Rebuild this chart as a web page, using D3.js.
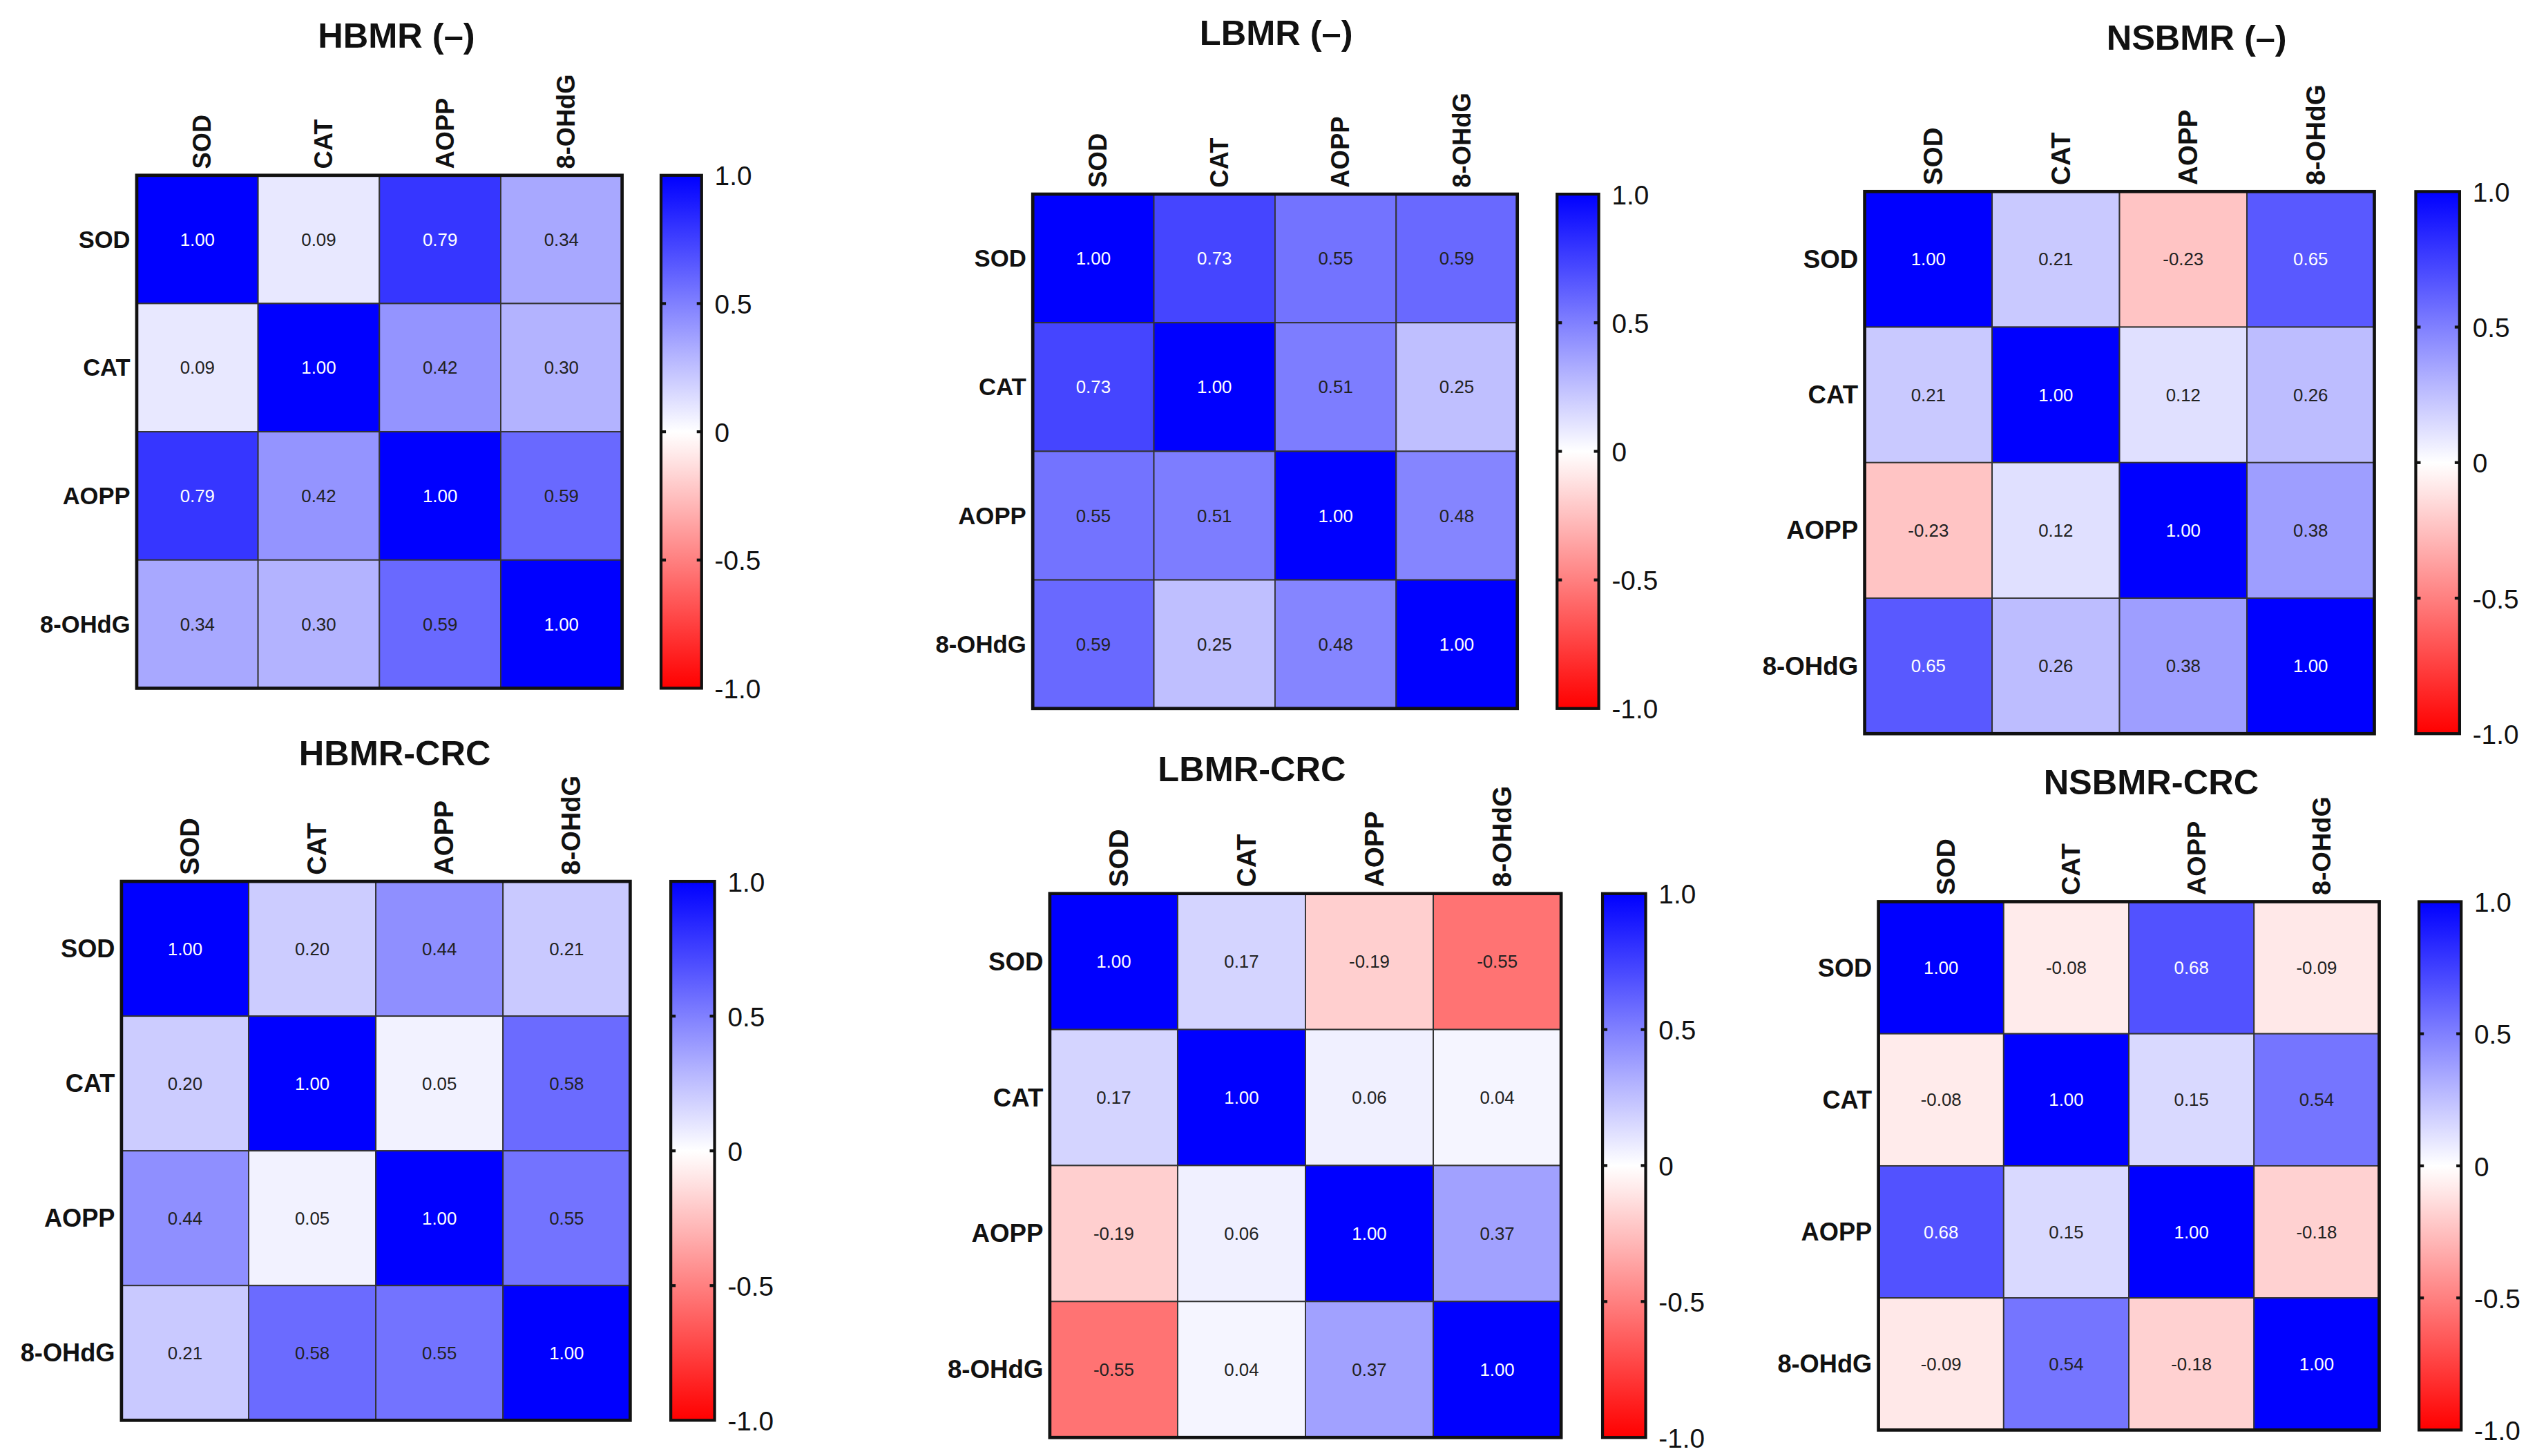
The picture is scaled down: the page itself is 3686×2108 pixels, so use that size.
<!DOCTYPE html>
<html>
<head>
<meta charset="utf-8">
<script src="https://cdn.jsdelivr.net/npm/d3@7"></script>
<style>
  html, body { margin: 0; padding: 0; background: #fff; }
  svg { display: block; }
  text { font-family: "Liberation Sans", Arial, sans-serif; }
</style>
</head>
<body>
<div id="chart"></div>
<script>
// variables shared by all six matrices
const vars = ["SOD", "CAT", "AOPP", "8-OHdG"];

// correlation matrices (rows/cols in the order of vars)
const hbmr = [
  [1.00, 0.09, 0.79, 0.34],
  [0.09, 1.00, 0.42, 0.30],
  [0.79, 0.42, 1.00, 0.59],
  [0.34, 0.30, 0.59, 1.00]
];
const lbmr = [
  [1.00, 0.73, 0.55, 0.59],
  [0.73, 1.00, 0.51, 0.25],
  [0.55, 0.51, 1.00, 0.48],
  [0.59, 0.25, 0.48, 1.00]
];
const nsbmr = [
  [1.00, 0.21, -0.23, 0.65],
  [0.21, 1.00, 0.12, 0.26],
  [-0.23, 0.12, 1.00, 0.38],
  [0.65, 0.26, 0.38, 1.00]
];
const hbmrCrc = [
  [1.00, 0.20, 0.44, 0.21],
  [0.20, 1.00, 0.05, 0.58],
  [0.44, 0.05, 1.00, 0.55],
  [0.21, 0.58, 0.55, 1.00]
];
const lbmrCrc = [
  [1.00, 0.17, -0.19, -0.55],
  [0.17, 1.00, 0.06, 0.04],
  [-0.19, 0.06, 1.00, 0.37],
  [-0.55, 0.04, 0.37, 1.00]
];
const nsbmrCrc = [
  [1.00, -0.08, 0.68, -0.09],
  [-0.08, 1.00, 0.15, 0.54],
  [0.68, 0.15, 1.00, -0.18],
  [-0.09, 0.54, -0.18, 1.00]
];

const titles = ["HBMR (\u2013)", "LBMR (\u2013)", "NSBMR (\u2013)", "HBMR-CRC", "LBMR-CRC", "NSBMR-CRC"];
const matrices = [hbmr, lbmr, nsbmr, hbmrCrc, lbmrCrc, nsbmrCrc];

// colour bar ticks
const cbTicks = [1, 0.5, 0, -0.5, -1];
const cbLabels = ["1.0", "0.5", "0", "-0.5", "-1.0"];

// panel placement (viewBox units), rf/cf = row/column label font size
const layout = [
  { tx: 244, ty: 22, x0: 84,    x1: 383,   y0: 108,   y1: 424,   c0: 407,  c1: 432,    rf: 14.7, cf: 15.4 },
  { tx: 786, ty: 20, x0: 636,   x1: 934.5, y0: 119.6, y1: 436.5, c0: 959,  c1: 984.7,  rf: 14.8, cf: 15.5 },
  { tx: 1353, ty: 23, x0: 1148.5, x1: 1462.5, y0: 118, y1: 452,   c0: 1488, c1: 1515,   rf: 15.6, cf: 16.4 },
  { tx: 243, ty: 464, x0: 74.6,  x1: 388,   y0: 543,   y1: 875,   c0: 413,  c1: 440,    rf: 15.4, cf: 16.2 },
  { tx: 771, ty: 474, x0: 646.5, x1: 961.5, y0: 550.5, y1: 885.6, c0: 987,  c1: 1013.6, rf: 15.6, cf: 16.5 },
  { tx: 1325, ty: 482, x0: 1157, x1: 1465.5, y0: 555.5, y1: 881,  c0: 1490, c1: 1516,   rf: 15.4, cf: 16.1 }
];

const W = 1568, H = 897;
const svg = d3.select("#chart").append("svg")
  .attr("width", 3686)
  .attr("height", 2108)
  .attr("viewBox", `0 0 ${W} ${H}`);

svg.append("rect").attr("width", W).attr("height", H).attr("fill", "#fff");

const color = d3.scaleLinear()
  .domain([-1, 0, 1])
  .range(["#ff0000", "#ffffff", "#0000ff"]);

// gradient for the colour bars
const defs = svg.append("defs");
const grad = defs.append("linearGradient")
  .attr("id", "cbgrad")
  .attr("x1", 0).attr("y1", 1).attr("x2", 0).attr("y2", 0);
grad.selectAll("stop")
  .data(d3.range(-1, 1.0001, 0.1))
  .enter()
  .append("stop")
  .attr("offset", d => ((d + 1) / 2 * 100) + "%")
  .attr("stop-color", d => color(d));

matrices.forEach((m, i) => {
  const L = layout[i];
  const g = svg.append("g").attr("class", "panel");

  const x = d3.scaleBand().domain(vars).range([L.x0, L.x1]);
  const y = d3.scaleBand().domain(vars).range([L.y0, L.y1]);

  g.append("text")
    .attr("x", L.tx)
    .attr("y", L.ty)
    .attr("text-anchor", "middle")
    .attr("dominant-baseline", "central")
    .attr("font-size", 21.5)
    .attr("font-weight", "bold")
    .attr("fill", "#111")
    .text(titles[i]);

  const cells = [];
  m.forEach((row, r) => row.forEach((v, c) => cells.push({ r: vars[r], c: vars[c], v })));

  g.selectAll("rect.cell")
    .data(cells)
    .enter()
    .append("rect")
    .attr("class", "cell")
    .attr("x", d => x(d.c))
    .attr("y", d => y(d.r))
    .attr("width", x.bandwidth())
    .attr("height", y.bandwidth())
    .attr("fill", d => color(d.v))
    .attr("stroke", "#333")
    .attr("stroke-width", 0.8);

  g.selectAll("text.val")
    .data(cells)
    .enter()
    .append("text")
    .attr("class", "val")
    .attr("x", d => x(d.c) + x.bandwidth() / 2)
    .attr("y", d => y(d.r) + y.bandwidth() / 2)
    .attr("text-anchor", "middle")
    .attr("dominant-baseline", "central")
    .attr("font-size", 11)
    .attr("fill", d => d.v >= 0.6 ? "#fff" : "#222")
    .text(d => d.v.toFixed(2));

  // outer frame
  g.append("rect")
    .attr("x", L.x0).attr("y", L.y0)
    .attr("width", L.x1 - L.x0).attr("height", L.y1 - L.y0)
    .attr("fill", "none")
    .attr("stroke", "#111")
    .attr("stroke-width", 2);

  // row labels
  g.selectAll("text.rowlab")
    .data(vars)
    .enter()
    .append("text")
    .attr("class", "rowlab")
    .attr("x", L.x0 - 4)
    .attr("y", d => y(d) + y.bandwidth() / 2)
    .attr("text-anchor", "end")
    .attr("dominant-baseline", "central")
    .attr("font-size", L.rf)
    .attr("font-weight", "bold")
    .attr("fill", "#111")
    .text(d => d);

  // column labels, rotated
  g.selectAll("text.collab")
    .data(vars)
    .enter()
    .append("text")
    .attr("class", "collab")
    .attr("transform", d => `translate(${x(d) + x.bandwidth() / 2 + 3},${L.y0 - 4}) rotate(-90)`)
    .attr("text-anchor", "start")
    .attr("dominant-baseline", "central")
    .attr("font-size", L.cf)
    .attr("font-weight", "bold")
    .attr("fill", "#111")
    .text(d => d);

  // colour bar
  const cy = d3.scaleLinear().domain([-1, 1]).range([L.y1, L.y0]);
  g.append("rect")
    .attr("x", L.c0).attr("y", L.y0)
    .attr("width", L.c1 - L.c0).attr("height", L.y1 - L.y0)
    .attr("fill", "url(#cbgrad)")
    .attr("stroke", "#111")
    .attr("stroke-width", 1.8);

  const inner = [0.5, 0, -0.5];
  g.selectAll("line.cbtickL")
    .data(inner)
    .enter()
    .append("line")
    .attr("x1", L.c0).attr("x2", L.c0 + 3)
    .attr("y1", d => cy(d)).attr("y2", d => cy(d))
    .attr("stroke", "#111").attr("stroke-width", 1.8);
  g.selectAll("line.cbtickR")
    .data(inner)
    .enter()
    .append("line")
    .attr("x1", L.c1 - 3).attr("x2", L.c1)
    .attr("y1", d => cy(d)).attr("y2", d => cy(d))
    .attr("stroke", "#111").attr("stroke-width", 1.8);

  const axis = d3.axisRight(cy)
    .tickValues(cbTicks)
    .tickSize(0)
    .tickPadding(8)
    .tickFormat((d, k) => cbLabels[k]);
  const ax = g.append("g")
    .attr("transform", `translate(${L.c1},0)`)
    .call(axis);
  ax.select(".domain").remove();
  ax.selectAll("text")
    .attr("font-size", 16.5)
    .attr("font-family", "'Liberation Sans', Arial, sans-serif")
    .attr("fill", "#111")
    .attr("dy", null)
    .attr("dominant-baseline", "central");
});
</script>
</body>
</html>
